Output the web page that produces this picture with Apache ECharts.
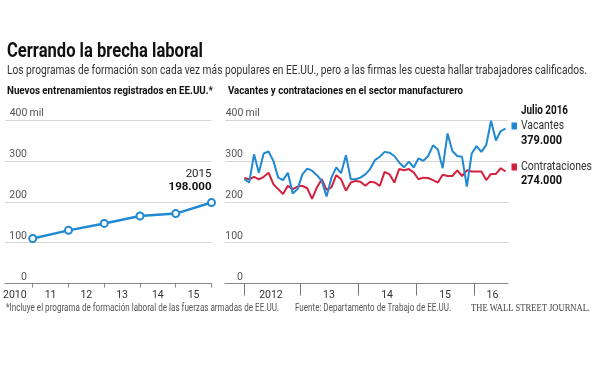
<!DOCTYPE html>
<html>
<head>
<meta charset="utf-8">
<script src="https://cdn.jsdelivr.net/npm/echarts@6/dist/echarts.min.js"></script>
<style>
html,body{margin:0;padding:0;background:#fff;}
#c{width:600px;height:370px;}
</style>
</head>
<body>
<div id="c"></div>
<script>
// ---- data ----
const trainYears = [2010, 2011, 2012, 2013, 2014, 2015];
const trainValues = [110, 130, 147, 165, 171, 198];
const trainTickLabels = ['2010', '11', '12', '13', '14', '15'];

// monthly, Jan 2012 .. Jul 2016 (thousands)
const vacantes = [255,247,316,271,318,323,300,259,253,271,220,231,
                  267,281,276,265,251,213,259,284,270,314,255,255,
                  259,267,280,302,310,322,320,312,296,284,298,284,
                  306,300,312,338,328,282,367,324,312,310,237,318,
                  336,322,339,398,350,373,379];
const contrataciones = [258,255,261,255,261,271,243,231,219,239,231,237,
                        239,233,207,235,255,229,235,265,255,227,247,251,
                        249,239,249,247,239,273,267,247,280,277,280,272,
                        255,259,258,253,247,266,263,263,277,263,277,274,
                        274,274,253,268,268,282,274];
const monthTickLabels = ['2012', '13', '14', '15', '16'];

const FONT = "Roboto, 'Liberation Sans', sans-serif";
const BLUE = '#2089d2';
const RED = '#d4213d';

const mctx = document.createElement('canvas').getContext('2d');
function fitText(text, x, yc, font, targetW, fill) {
  mctx.font = font;
  const w = mctx.measureText(text).width;
  return {
    type: 'text', x: x, y: yc, scaleX: targetW / w, originX: 0,
    style: {text: text, font: font, fill: fill, x: 0, y: 0,
            verticalAlign: 'middle', textVerticalAlign: 'middle', align: 'left', textAlign: 'left'}
  };
}

const chart = echarts.init(document.getElementById('c'), null, {renderer: 'canvas'});

function yAxisCfg(gi, margin) {
  return {
    type: 'value', gridIndex: gi, min: 0, max: 400, interval: 100,
    axisLine: {show: false}, axisTick: {show: false},
    splitLine: {lineStyle: {color: '#d6d6d6', width: 1}},
    axisLabel: {
      inside: true, margin: margin, verticalAlign: 'bottom', padding: [0, 0, 1, 0],
      color: '#555', fontFamily: FONT, fontSize: 10.5,
      formatter: v => v === 400 ? '{n|' + v + '}{m| mil}' : '{n|' + v + '}',
      rich: {
        n: {width: 17, align: 'right', fontFamily: FONT, fontSize: 10.5, color: '#555'},
        m: {fontFamily: FONT, fontSize: 10.5, color: '#555'}
      }
    }
  };
}

const labelPosL = trainYears.map(y => y - 0.5);
const labelPosR = [5.5, 17.5, 29.5, 41.5, 51.3];
const tickPosR = [0, 11.5, 23.5, 35.5, 47.5];

const lastV = vacantes[vacantes.length - 1];
const lastC = contrataciones[contrataciones.length - 1];
const thousands = v => v + '.000';

chart.setOption({
  animation: false,
  grid: [
    {left: 5, top: 120, width: 206.5, height: 163.5},
    {left: 225, top: 120, width: 283, height: 163.5}
  ],
  xAxis: [
    {
      type: 'value', gridIndex: 0, min: 2009.225, max: 2015,
      splitLine: {show: false},
      axisLine: {show: true, lineStyle: {color: '#888', width: 1}},
      axisTick: {show: true, customValues: trainYears, length: 4, lineStyle: {color: '#888'}},
      axisLabel: {
        customValues: labelPosL, margin: 6, color: '#333', fontFamily: FONT, fontSize: 10.5,
        formatter: v => trainTickLabels[labelPosL.indexOf(v)]
      }
    },
    {
      type: 'value', gridIndex: 1, min: -4, max: 54.5,
      splitLine: {show: false},
      axisLine: {show: true, lineStyle: {color: '#888', width: 1}},
      axisTick: {show: true, customValues: tickPosR, length: 12, lineStyle: {color: '#777'}},
      axisLabel: {
        customValues: labelPosR, margin: 6, color: '#333', fontFamily: FONT, fontSize: 10.5,
        formatter: v => monthTickLabels[labelPosR.indexOf(v)]
      }
    }
  ],
  yAxis: [yAxisCfg(0, 5), yAxisCfg(1, 1)],
  series: [
    {
      type: 'line', xAxisIndex: 0, yAxisIndex: 0,
      data: trainYears.map((y, i) => {
        const d = {value: [y, trainValues[i]]};
        if (i === trainYears.length - 1) {
          d.label = {
            show: true, position: 'top', align: 'right', distance: 4,
            formatter: '{y|' + y + '}\n{v|' + thousands(trainValues[i]) + '}',
            rich: {
              y: {fontFamily: FONT, fontSize: 11.5, color: '#222', lineHeight: 13.5, align: 'right'},
              v: {fontFamily: FONT, fontSize: 11.5, fontWeight: 'bold', color: '#111', lineHeight: 13.5, align: 'right'}
            }
          };
        }
        return d;
      }),
      symbol: 'circle', symbolSize: 7, showSymbol: true,
      itemStyle: {color: '#fff', borderColor: BLUE, borderWidth: 2},
      lineStyle: {color: BLUE, width: 2.5},
      z: 3
    },
    {
      type: 'line', xAxisIndex: 1, yAxisIndex: 1,
      data: contrataciones.map((v, i) => [i, v]),
      showSymbol: false, symbol: 'none',
      lineStyle: {color: RED, width: 2}
    },
    {
      type: 'line', xAxisIndex: 1, yAxisIndex: 1,
      data: vacantes.map((v, i) => [i, v]),
      showSymbol: false, symbol: 'none',
      lineStyle: {color: BLUE, width: 2}
    }
  ],
  graphic: [
    fitText('Cerrando la brecha laboral', 7, 51.5, 'bold 21px ' + FONT, 196, '#111'),
    fitText('Los programas de formación son cada vez más populares en EE.UU., pero a las firmas les cuesta hallar trabajadores calificados.', 7, 71, '12px ' + FONT, 580, '#333'),
    fitText('Nuevos entrenamientos registrados en EE.UU.*', 7, 91, 'bold 11.5px ' + FONT, 206, '#111'),
    fitText('Vacantes y contrataciones en el sector manufacturero', 228, 91, 'bold 11.5px ' + FONT, 235, '#111'),
    fitText('Julio 2016', 521, 110.5, 'bold 12.5px ' + FONT, 47, '#111'),
    {type: 'rect', shape: {x: 511.5, y: 122.5, width: 5.5, height: 7}, style: {fill: BLUE}},
    fitText('Vacantes', 521, 126, '13px ' + FONT, 43, '#333'),
    fitText(thousands(lastV), 521, 141, 'bold 12.5px ' + FONT, 41, '#111'),
    {type: 'rect', shape: {x: 511.5, y: 163.5, width: 5.5, height: 7}, style: {fill: RED}},
    fitText('Contrataciones', 521, 167, '13px ' + FONT, 71, '#333'),
    fitText(thousands(lastC), 521, 180.5, 'bold 12.5px ' + FONT, 41, '#111'),
    fitText('*Incluye el programa de formación laboral de las fuerzas armadas de EE.UU.', 6, 308, '10px ' + FONT, 273, '#555'),
    fitText('Fuente: Departamento de Trabajo de EE.UU.', 295, 308, '10px ' + FONT, 156, '#555'),
    fitText('THE WALL STREET JOURNAL.', 471, 308, "10px 'Liberation Serif','DejaVu Serif',serif", 119, '#444')
  ]
});
</script>
</body>
</html>
